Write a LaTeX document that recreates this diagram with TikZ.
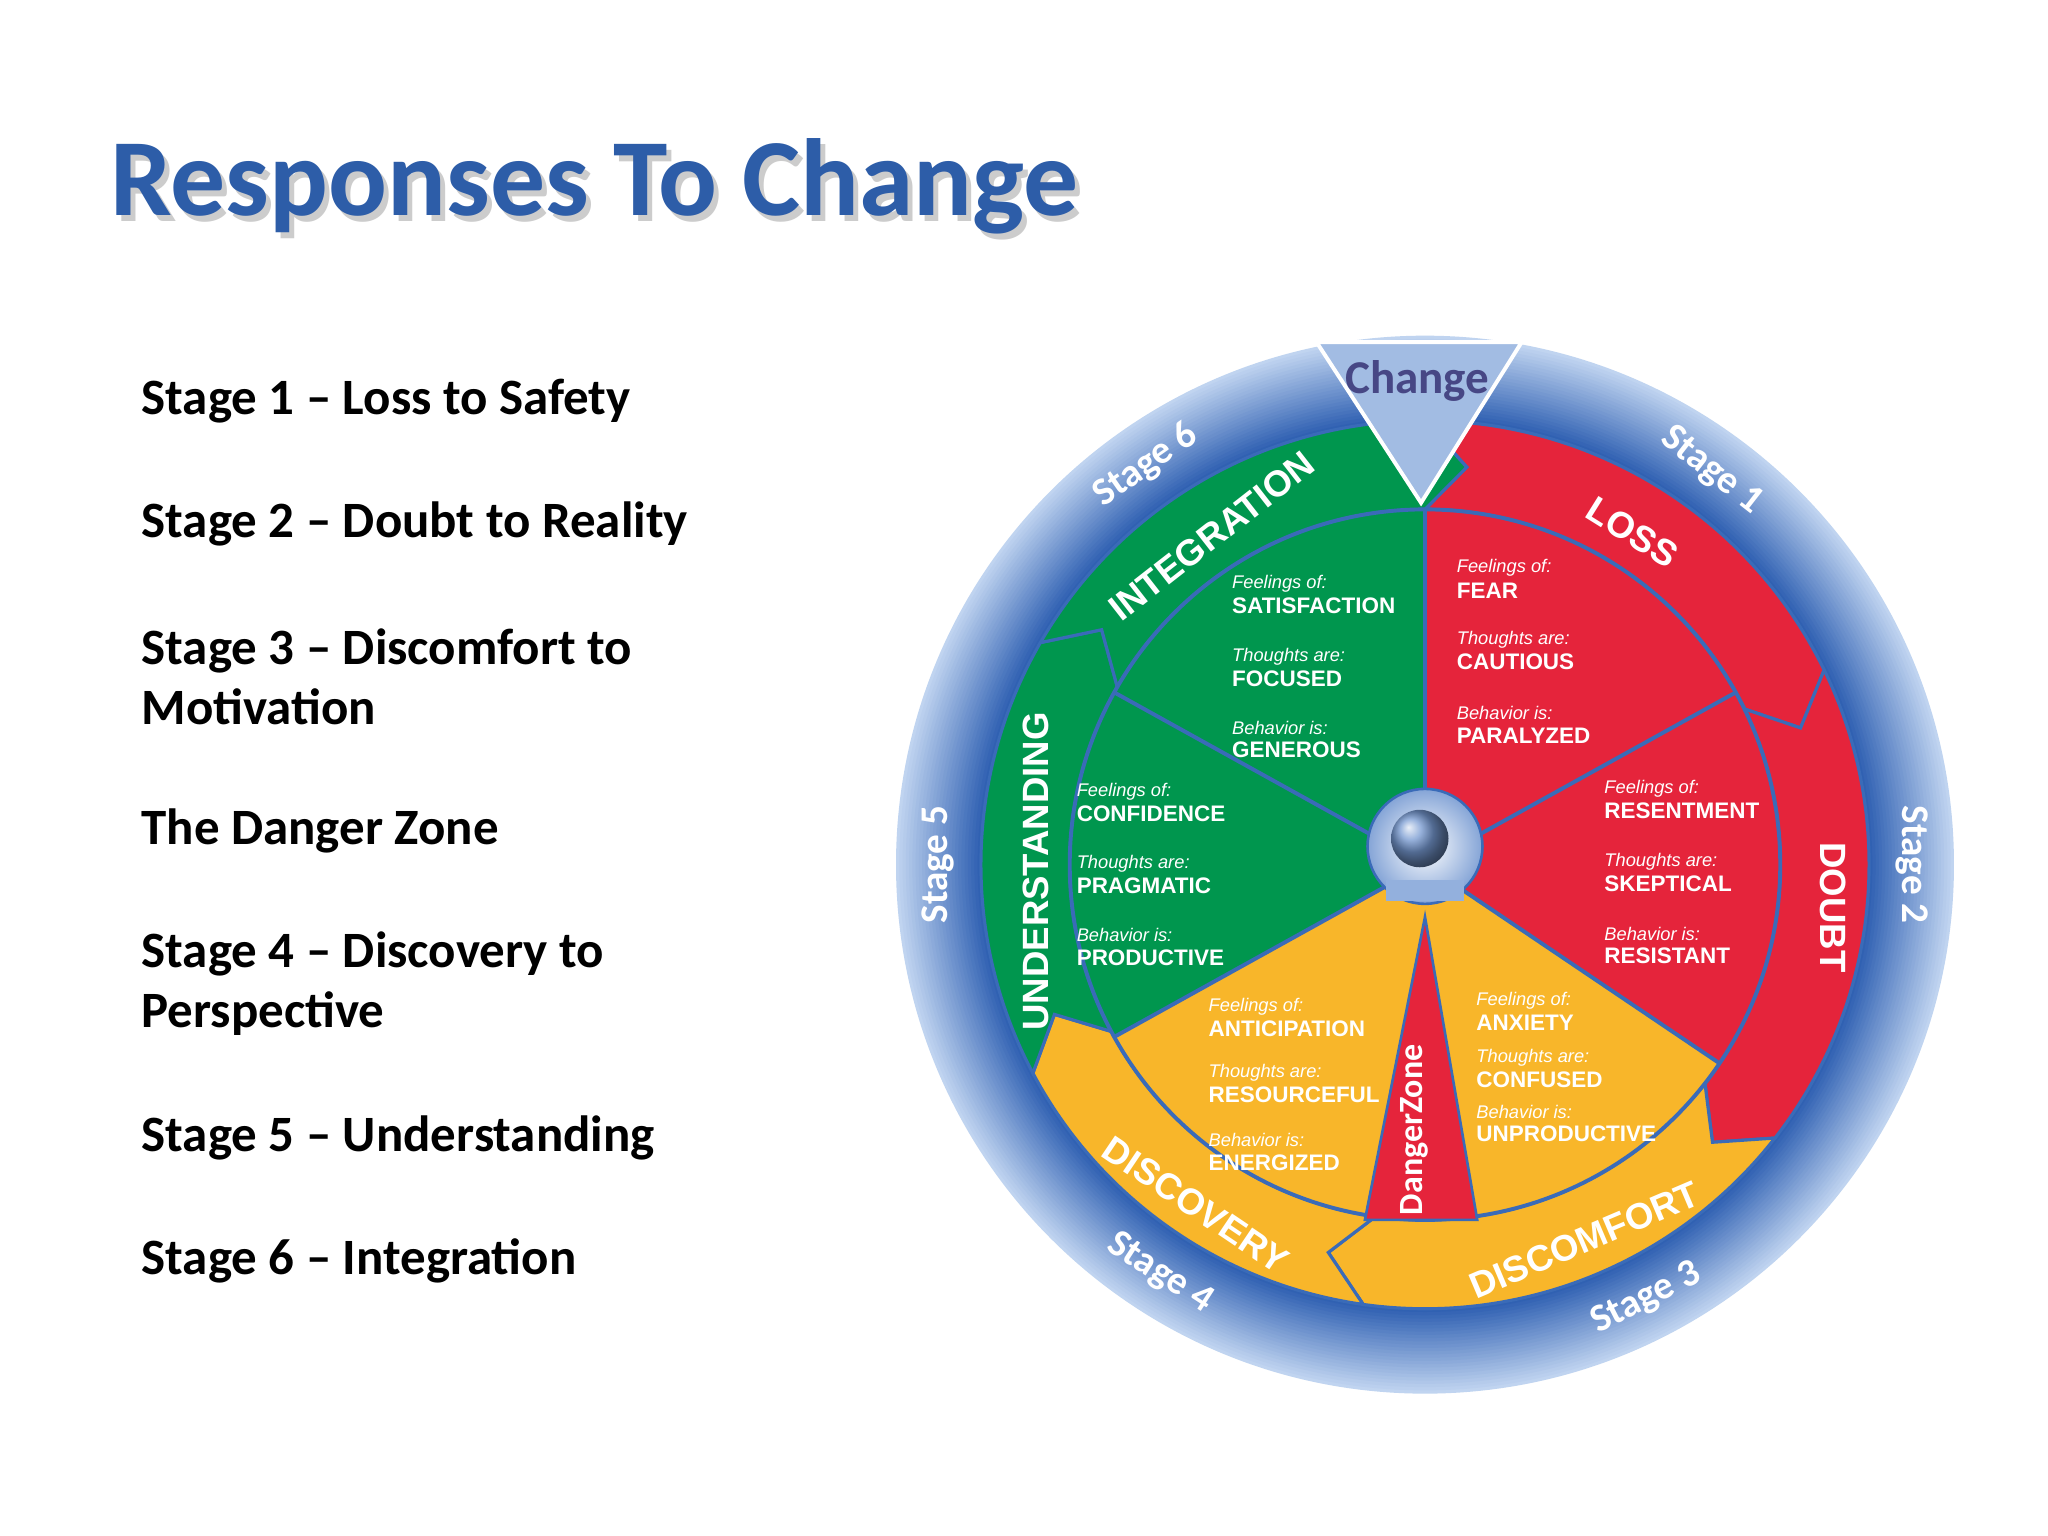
\documentclass[tikz,border=0pt]{standalone}
\usepackage{fontspec}
\setmainfont{Carlito}
\newfontfamily\wf{Liberation Sans}
\definecolor{cgreen}{HTML}{00964E}
\definecolor{cred}{HTML}{E5243B}
\definecolor{cyel}{HTML}{F8B62A}
\definecolor{cline}{HTML}{3A6BB8}
\definecolor{ringin}{HTML}{C0D4F0}
\definecolor{ringout}{HTML}{2A5CB0}
\definecolor{titleblue}{HTML}{2D5DA8}
\tikzset{
  listtxt/.style={anchor=west,font=\fontsize{19.5}{22}\selectfont\bfseries,align=left,inner sep=0pt},
  small/.style={anchor=west,font=\wf\fontsize{7}{8}\selectfont\itshape,text=white,inner sep=0pt},
  big/.style={anchor=west,font=\wf\fontsize{8.6}{9}\selectfont\bfseries,text=white,inner sep=0pt},
  stagetxt/.style={font=\fontsize{15}{16}\selectfont\bfseries,text=white},
  bandtxt/.style={font=\wf\fontsize{14}{16}\selectfont\bfseries,text=white},
}
\newcommand{\info}[5]{%
  \node[small] (#5a) at (#1,#2) {#3};
  \node[big] (#5b) at (#1,#2+17) {#4};}
\begin{document}
\begin{tikzpicture}[x=0.5pt,y=-0.5pt]
\useasboundingbox (0,0) rectangle (1568,1176);
\fill[white] (0,0) rectangle (1568,1176);
% title
\node[anchor=west,font=\fontsize{42}{48}\selectfont\bfseries,text=gray!40,inner sep=0pt] at (88,147) {Responses To Change};
\node[anchor=west,font=\fontsize{42}{48}\selectfont\bfseries,text=titleblue,inner sep=0pt] (title) at (84,143) {Responses To Change};
% list
\node[listtxt] (l1) at (108,307) {Stage 1 -- Loss to Safety};
\node[listtxt] (l2) at (108,401) {Stage 2 -- Doubt to Reality};
\node[listtxt] (l3) at (108,518) {Stage 3 -- Discomfort to\\[1pt]Motivation};
\node[listtxt] (l4) at (108,636) {The Danger Zone};
\node[listtxt] (l5) at (108,753) {Stage 4 -- Discovery to\\[1pt]Perspective};
\node[listtxt] (l6) at (108,871) {Stage 5 -- Understanding};
\node[listtxt] (l7) at (108,965) {Stage 6 -- Integration};
% wheel
\begin{scope}[shift={(545.5pt,-331pt)},x=0.5pt,y=0.5pt]
  \foreach \i in {0,...,26}{
    \pgfmathsetmacro{\rr}{405-\i*2.5}
    \pgfmathsetmacro{\pc}{100-\i*100/26}
    \fill[ringin!\pc!ringout] (0,0) circle[radius=\rr];
  }
  % bands
  \foreach \a/\b/\c in {90/26/cred, 26/-38/cred, -38/-98/cyel, -98/-152/cyel, -152/-210/cgreen, -210/-270/cgreen}{
    \fill[\c,draw=cline,line width=1.2pt] (\a:272) -- (\a-6:306) -- (\a:340) arc[start angle=\a,end angle=\b,radius=340]
      -- (\b-6:306) -- (\b:272) arc[start angle=\b,end angle=\a,radius=272] -- cycle;
  }
  % inner sectors
  \foreach \a/\b/\c in {90/29/cred, 29/-34/cred, -34/-90/cyel, -90/-151/cyel, -151/-209/cgreen, -209/-270/cgreen}{
    \fill[\c] (0,0) -- (\a:272) arc[start angle=\a,end angle=\b,radius=272] -- cycle;
  }
  \foreach \a in {90,29,-34,-151,-209}{\draw[cline,line width=1.5pt] (0,0) -- (\a:272);}
  \draw[cline,line width=1.5pt] (0,0) circle[radius=272];
  % danger zone
  \fill[cred,draw=cline,line width=1pt] (0,-40) -- (-46,-272) -- (40,-272) -- cycle;
  \node[rotate=90,font=\fontsize{13}{14}\selectfont\bfseries,text=white] (dz) at (-8,-203) {DangerZone};
  % head icon
  \shade[inner color=white,outer color=ringin!60!ringout,draw=cline,line width=1pt] (0,14) circle[radius=44];
  \shade[ball color=ringin!50!ringout] (-4,20) circle[radius=22];
  \fill[ringin!70!ringout] (-30,-12) rectangle (30,-28);
  % change tab
  \fill[ringin!80!ringout,draw=white,line width=1.5pt] (-83,400) -- (74,400) -- (-3,277) -- cycle;
  \node[font=\fontsize{18}{20}\selectfont\bfseries,text=gray!70!blue!80!black] (chg) at (-6,370) {Change};
  % stage labels
  \node[stagetxt,rotate=-38] (s1) at (54:373) {Stage 1};
  \node[stagetxt,rotate=-90] (s2) at (0:373) {Stage 2};
  \node[stagetxt,rotate=27] (s3) at (-63:373) {Stage 3};
  \node[stagetxt,rotate=-33] (s4) at (-123:373) {Stage 4};
  \node[stagetxt,rotate=90] (s5) at (180:373) {Stage 5};
  \node[stagetxt,rotate=35] (s6) at (125:373) {Stage 6};
  % band labels
  \node[bandtxt,rotate=-32] (b1) at (58:300) {LOSS};
  \node[bandtxt,rotate=-90] (b2) at (-6:314) {DOUBT};
  \node[bandtxt,rotate=23] (b3) at (-67:312) {DISCOMFORT};
  \node[bandtxt,rotate=-34] (b4) at (-124:314) {DISCOVERY};
  \node[bandtxt,rotate=90] (b5) at (181:298) {UNDERSTANDING};
  \node[bandtxt,rotate=38] (b6) at (123:300) {INTEGRATION};
\end{scope}
% inner texts (display coordinates)
\info{943}{447}{Feelings of:}{SATISFACTION}{ia}
\info{943}{503}{Thoughts are:}{FOCUSED}{ib}
\info{943}{557}{Behavior is:}{GENEROUS}{ic}
\info{1115}{435}{Feelings of:}{FEAR}{la}
\info{1115}{490}{Thoughts are:}{CAUTIOUS}{lb}
\info{1115}{546}{Behavior is:}{PARALYZED}{lc}
\info{1228}{604}{Feelings of:}{RESENTMENT}{da}
\info{1228}{660}{Thoughts are:}{SKEPTICAL}{db}
\info{1228}{715}{Behavior is:}{RESISTANT}{dc}
\info{824}{606}{Feelings of:}{CONFIDENCE}{ua}
\info{824}{661}{Thoughts are:}{PRAGMATIC}{ub}
\info{824}{716}{Behavior is:}{PRODUCTIVE}{uc}
\info{925}{771}{Feelings of:}{ANTICIPATION}{va}
\info{925}{821}{Thoughts are:}{RESOURCEFUL}{vb}
\info{925}{873}{Behavior is:}{ENERGIZED}{vc}
\info{1130}{766}{Feelings of:}{ANXIETY}{ca}
\info{1130}{810}{Thoughts are:}{CONFUSED}{cb}
\info{1130}{851}{Behavior is:}{UNPRODUCTIVE}{cc}
\end{tikzpicture}
\end{document}
